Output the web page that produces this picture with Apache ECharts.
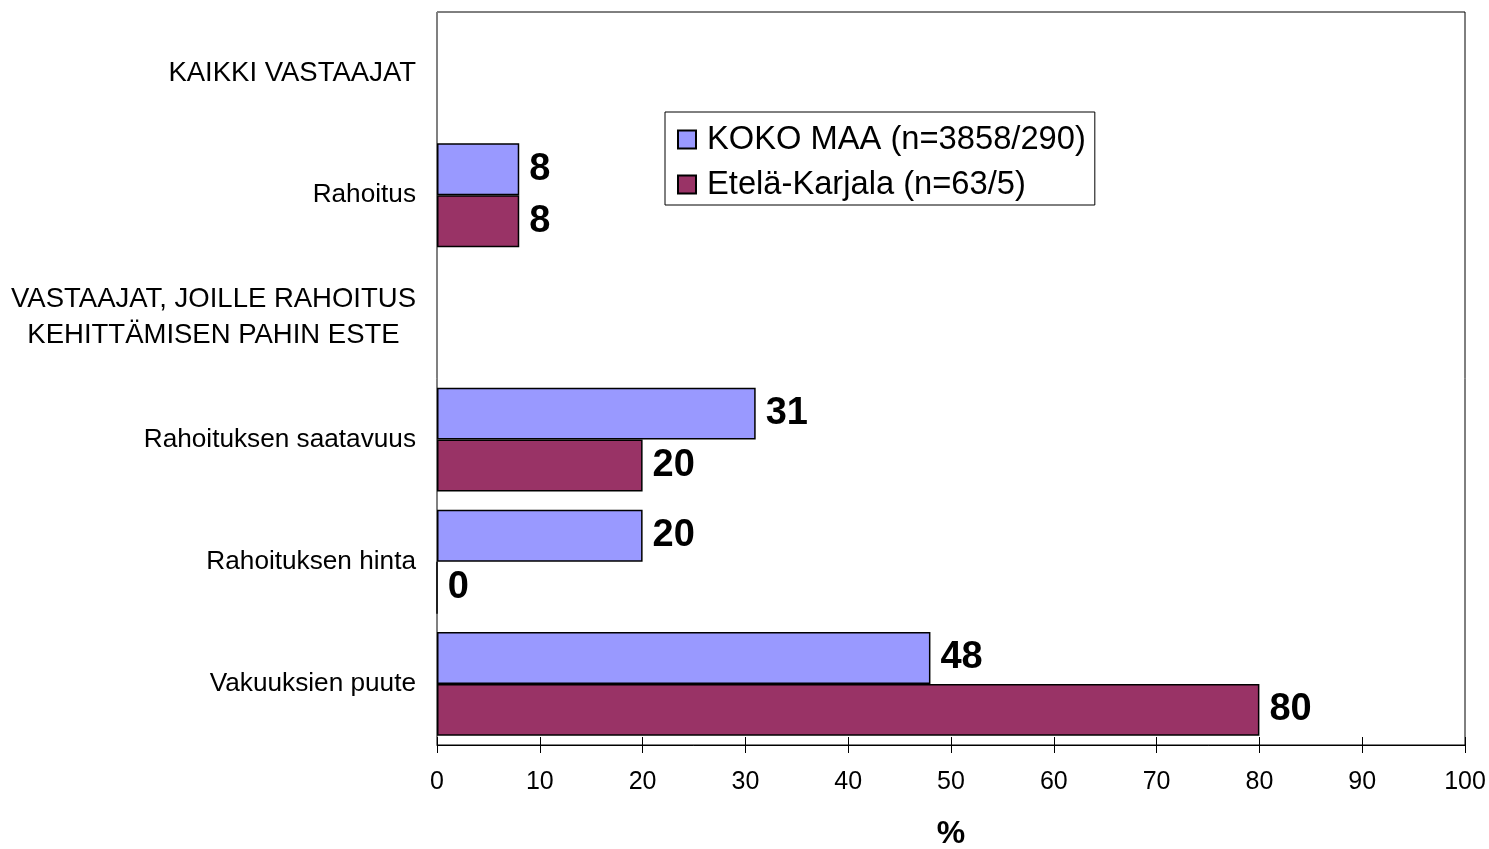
<!DOCTYPE html>
<html>
<head>
<meta charset="utf-8">
<script src="https://cdn.jsdelivr.net/npm/echarts@6/dist/echarts.min.js"></script>
<style>
    html, body { margin: 0; padding: 0; background: #fff; }
    #chart { width: 1489px; height: 849px; }
</style>
</head>
<body>
<div id="chart"></div>
<script>
const categories = [
    'KAIKKI VASTAAJAT',
    'Rahoitus',
    'VASTAAJAT, JOILLE RAHOITUS\nKEHITTÄMISEN PAHIN ESTE',
    'Rahoituksen saatavuus',
    'Rahoituksen hinta',
    'Vakuuksien puute',
]
const headings = ['KAIKKI VASTAAJAT', 'VASTAAJAT, JOILLE RAHOITUS\nKEHITTÄMISEN PAHIN ESTE']
const kokoMaa = [null, 8, null, 31, 20, 48]
const etelaKarjala = [null, 8, null, 20, 0, 80]
const xTicks = [0, 10, 20, 30, 40, 50, 60, 70, 80, 90, 100]

const FONT = '"Liberation Sans", Arial, sans-serif'

const chart = echarts.init(document.getElementById('chart'))

const valueLabel = {
    show: true,
    position: 'right',
    distance: 10,
    color: '#000',
    fontFamily: FONT,
    fontWeight: 'bold',
    fontSize: 38,
}

chart.setOption({
    animation: false,
    textStyle: { fontFamily: FONT },
    grid: {
        left: 437,
        right: 24,
        top: 12,
        bottom: 104,
        outerBoundsMode: 'none',
        containLabel: false,
        show: true,
        borderColor: '#000',
        borderWidth: 1,
    },
    legend: {
        orient: 'vertical',
        left: 665,
        top: 112,
        padding: [11, 9, 4, 12],
        itemGap: 12,
        itemWidth: 18,
        itemHeight: 18,
        icon: 'rect',
        borderColor: '#000',
        borderWidth: 1,
        backgroundColor: '#fff',
        textStyle: {
            color: '#000',
            fontFamily: FONT,
            fontSize: 32.7,
            lineHeight: 32,
            padding: [0, 0, 0, 6],
        },
        data: ['KOKO MAA (n=3858/290)', 'Etelä-Karjala (n=63/5)'],
    },
    xAxis: [
        {
            type: 'value',
            min: 0,
            max: 100,
            interval: 10,
            name: '%',
            nameLocation: 'middle',
            nameGap: 73,
            nameTextStyle: {
                color: '#000',
                fontFamily: FONT,
                fontWeight: 'bold',
                fontSize: 32,
            },
            axisLine: { show: true, lineStyle: { color: '#000', width: 1 } },
            axisTick: { show: true, inside: false, length: 8, lineStyle: { color: '#000' } },
            axisLabel: {
                color: '#000',
                fontFamily: FONT,
                fontSize: 25,
                margin: 25,
                formatter: v => (xTicks.includes(v) ? String(v) : ''),
            },
            splitLine: { show: false },
        },
        {
            // inner half of the crossing tick marks
            type: 'value',
            min: 0,
            max: 100,
            interval: 10,
            position: 'bottom',
            axisLine: { show: false },
            axisTick: { show: true, inside: true, length: 8, lineStyle: { color: '#000' } },
            axisLabel: { show: false },
            splitLine: { show: false },
        },
    ],
    yAxis: {
        type: 'category',
        inverse: true,
        data: categories,
        axisLine: { show: true, lineStyle: { color: '#808080', width: 1 } },
        axisTick: { show: false },
        axisLabel: {
            color: '#000',
            fontFamily: FONT,
            fontSize: 26.2,
            margin: 21,
            formatter: v => (headings.includes(v) ? '{c|' + v + '}' : v),
            rich: {
                c: {
                    align: 'center',
                    color: '#000',
                    fontFamily: FONT,
                    fontSize: 27.5,
                    lineHeight: 36,
                },
            },
        },
    },
    series: [
        {
            name: 'KOKO MAA (n=3858/290)',
            type: 'bar',
            barGap: '0%',
            barCategoryGap: '15%',
            data: kokoMaa,
            itemStyle: { color: '#9999FF', borderColor: '#000', borderWidth: 1.5 },
            label: valueLabel,
        },
        {
            name: 'Etelä-Karjala (n=63/5)',
            type: 'bar',
            barGap: '0%',
            barCategoryGap: '15%',
            data: etelaKarjala,
            itemStyle: { color: '#993366', borderColor: '#000', borderWidth: 1.5 },
            label: valueLabel,
        },
    ],
})
</script>
</body>
</html>
